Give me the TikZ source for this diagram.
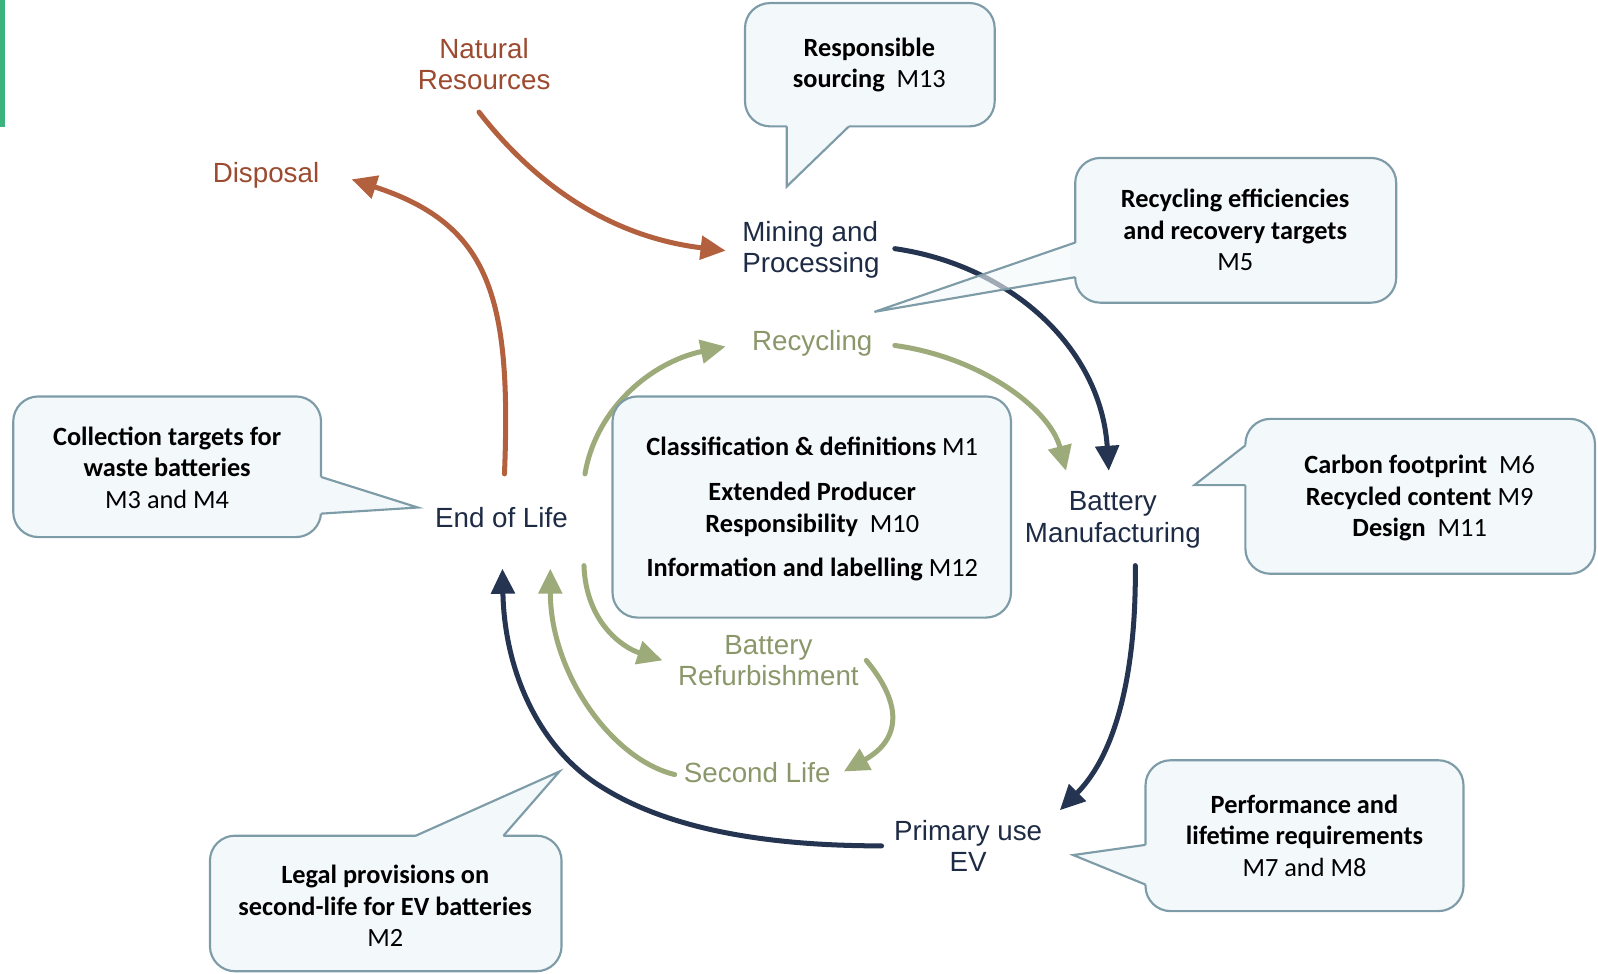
\documentclass[tikz,border=0pt]{standalone}
\usepackage{fontspec}
\setmainfont{Carlito}
\newfontfamily\arialf{Liberation Sans}
\usetikzlibrary{arrows.meta}
\definecolor{brownl}{HTML}{B3603F}
\definecolor{brownt}{HTML}{9C4A30}
\definecolor{navyl}{HTML}{253551}
\definecolor{navyt}{HTML}{1E2B45}
\definecolor{olivel}{HTML}{9DAA7A}
\definecolor{olivet}{HTML}{8A976A}
\definecolor{bordc}{HTML}{7E9CA8}
\definecolor{fillc}{HTML}{F3F8FA}
\definecolor{greenbar}{HTML}{3CB27C}
\begin{document}
\begin{tikzpicture}[x=0.02cm,y=-0.02cm,
  lab/.style={font=\arialf\fontsize{15.5}{17.5}\selectfont, align=center, inner sep=0pt},
  ctext/.style={font=\fontsize{14.7}{17.6}\selectfont, align=center, inner sep=0pt, text=black},
  cbox/.style={draw=bordc, fill=fillc, line width=1.2pt, rounded corners=14pt},
  cline/.style={draw=bordc, line width=1.2pt, line join=miter},
  arr/.style={line width=2.8pt, line cap=round, -{Triangle[length=14pt,width=13pt]}},
  brarr/.style={arr, draw=brownl},
  nvarr/.style={arr, draw=navyl},
  olarr/.style={arr, draw=olivel}]
\useasboundingbox (0,0) rectangle (1568,955);
\fill[greenbar] (0,0) rectangle (5,125);

% stage labels
\node[lab, text=brownt] (nat) at (475,63) {Natural\\Resources};
\node[lab, text=brownt] (disp) at (261,172) {Disposal};
\node[lab, text=navyt, align=left, anchor=west] (mine) at (728,245) {Mining and\\Processing};
\node[lab, text=olivet] (recy) at (797,337) {Recycling};
\node[lab, text=navyt] (bman) at (1092,510) {Battery\\Manufacturing};
\node[lab, text=navyt] (eol) at (492,508) {End of Life};
\node[lab, text=olivet] (refu) at (754,648) {Battery\\Refurbishment};
\node[lab, text=olivet] (sec) at (743,758) {Second Life};
\node[lab, text=navyt] (prim) at (950,830) {Primary use\\EV};

% arrow end points
\coordinate (natS) at (470,110);
\coordinate (mineW) at (712,246);
\coordinate (eolN1) at (495,465);
\coordinate (dispE) at (345,176);
\coordinate (mineE) at (878,244);
\coordinate (bmanN1) at (1088,462);
\coordinate (bmanS) at (1114,555);
\coordinate (primN) at (1040,795);
\coordinate (primW) at (865,830);
\coordinate (eolS1) at (493,558);
\coordinate (mid1) at (590,772);
\coordinate (eolN2) at (574,465);
\coordinate (recyW) at (712,340);
\coordinate (recyE) at (878,339);
\coordinate (bmanN2) at (1046,462);
\coordinate (eolS3) at (573,555);
\coordinate (refuW) at (650,648);
\coordinate (refuE) at (850,648);
\coordinate (secE) at (828,757);
\coordinate (secW) at (662,760);
\coordinate (eolS2) at (540,558);

% arrows
\draw[brarr] (natS) .. controls (540,200) and (620,235) .. (mineW);
\draw[brarr] (eolN1) .. controls (502,290) and (480,220) .. (dispE);
\draw[nvarr] (mineE) .. controls (990,260) and (1080,340) .. (bmanN1);
\draw[nvarr] (bmanS) .. controls (1115,660) and (1095,740) .. (primN);
\draw[nvarr] (primW) .. controls (740,830) and (650,810) .. (mid1)
   .. controls (530,735) and (495,660) .. (eolS1);
\draw[olarr] (eolN2) .. controls (585,400) and (640,355) .. (recyW);
\draw[olarr] (recyE) .. controls (960,350) and (1030,400) .. (bmanN2);
\draw[olarr] (eolS3) .. controls (575,610) and (610,635) .. (refuW);
\draw[olarr] (refuE) .. controls (885,690) and (885,725) .. (secE);
\draw[olarr] (secW) .. controls (600,745) and (540,660) .. (eolS2);

% callout: responsible sourcing
\draw[cbox] (731,3) rectangle (976,124);
\fill[fillc] (772,124) -- (772,183) -- (833,124) -- (833,119) -- (772,119) -- cycle;
\draw[cline] (772,124) -- (772,183) -- (833,124);
\node[ctext] (c1) at (853,64) {\textbf{Responsible}\\\textbf{sourcing}\ \ M13};

% callout: recycling efficiencies
\draw[cbox] (1055,155) rectangle (1370,297);
\fill[fillc] (1050,238) rectangle (1060,272);
\fill[fillc, fill opacity=0.6] (1055,238) -- (858,306) -- (1055,272) -- cycle;
\draw[cline] (1055,238) -- (858,306) -- (1055,272);
\node[ctext] (c2) at (1212,226) {\textbf{Recycling efficiencies}\\\textbf{and recovery targets}\\M5};

% callout: collection targets
\draw[cbox] (13,389) rectangle (315,527);
\fill[fillc] (315,468) -- (410,498) -- (315,504) -- (310,504) -- (310,468) -- cycle;
\draw[cline] (315,468) -- (410,498) -- (315,504);
\node[ctext] (c3) at (164,459) {\textbf{Collection targets for}\\\textbf{waste batteries}\\M3 and M4};

% central box
\draw[cbox] (601,389) rectangle (992,606);
\node[ctext] (c4a) at (797,438) {\textbf{Classification \& definitions} M1};
\node[ctext] (c4b) at (797,500) {\textbf{Extended Producer}\\\textbf{Responsibility}\ \ M10};
\node[ctext] (c4c) at (797,559) {\textbf{Information and labelling} M12};

% callout: carbon footprint
\draw[cbox] (1222,411) rectangle (1565,563);
\fill[fillc] (1222,437) -- (1172,476) -- (1222,476) -- (1227,476) -- (1227,437) -- cycle;
\draw[cline] (1222,437) -- (1172,476) -- (1222,476);
\node[ctext] (c5) at (1393,489) {\textbf{Carbon footprint}\ \ M6\\\textbf{Recycled content} M9\\\textbf{Design}\ \ M11};

% callout: legal provisions
\draw[cbox] (206,820) rectangle (551,953);
\fill[fillc] (408,820) -- (549,757) -- (494,820) -- (494,825) -- (408,825) -- cycle;
\draw[cline] (408,820) -- (549,757) -- (494,820);
\node[ctext] (c6) at (378,889) {\textbf{Legal provisions on}\\\textbf{second-life for EV batteries}\\M2};

% callout: performance
\draw[cbox] (1124,746) rectangle (1436,894);
\fill[fillc] (1124,829) -- (1053,839) -- (1124,868) -- (1129,868) -- (1129,829) -- cycle;
\draw[cline] (1124,829) -- (1053,839) -- (1124,868);
\node[ctext] (c7) at (1280,820) {\textbf{Performance and}\\\textbf{lifetime requirements}\\M7 and M8};
\end{tikzpicture}
\end{document}
